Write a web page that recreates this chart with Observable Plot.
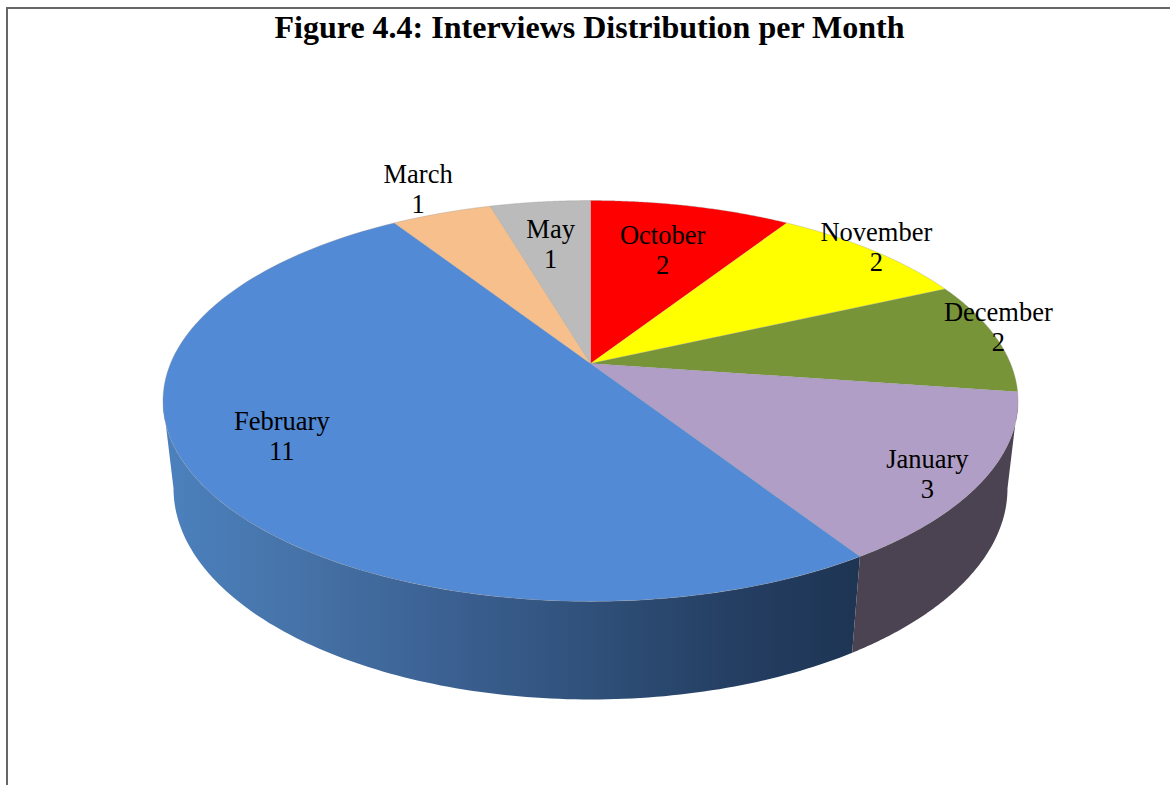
<!DOCTYPE html>
<html>
<head>
<meta charset="utf-8">
<script src="https://cdn.jsdelivr.net/npm/d3@7"></script>
<script src="https://cdn.jsdelivr.net/npm/@observablehq/plot@0.6"></script>
<style>
  html, body { margin: 0; padding: 0; background: #fff; overflow: hidden; }
  #page { position: relative; width: 1170px; height: 785px; }
  #frame { position: absolute; left: 6px; top: 7px; right: 0; bottom: 0;
           border-left: 2px solid #666; border-top: 2px solid #666; pointer-events: none; }
  #title { height: 48px; box-sizing: border-box; padding-top: 8px; text-align: center; margin: 0;
           font: bold 32px/38px "Liberation Serif", serif; color: #000; white-space: nowrap;
           position: relative; left: 4.5px; }
  svg { display: block; }
</style>
</head>
<body>
<div id="page">
  <div id="frame"></div>
  <h1 id="title">Figure 4.4: Interviews Distribution per Month</h1>
  <div id="chart"></div>
</div>
<script>
// Data
const months = ["October", "November", "December", "January", "February", "March", "May"];
const interviews = [2, 2, 2, 3, 11, 1, 1];
const sliceColors = ["#ff0000", "#ffff00", "#779438", "#b09ec6", "#538ad6", "#f6bf8c", "#bbbbbb"];

// Layout of the data labels: distance from the pie's centre (1 = rim), and a small turn off the slice's middle
const labelRadius = [0.684, 1.022, 1.024, 0.891, 0.772, 1.188, 0.703];
const labelTurn = [0, -0.5, -2.6, 2.9, 5.5, 0, -0.6];

// Perspective views of the disc's top face and of its lower rim
const topView = {cx: 590, cy: 363, a: 420, b: 193.4, k: 0.187, turn: 0};
const floorView = {cx: 590, cy: 454.2, a: 411.6, b: 205.6, k: 0.16, turn: -0.7};
const project = (deg, r = 1, view = topView) => {
  const t = (deg + view.turn) * Math.PI / 180, u = r * Math.sin(t), v = r * Math.cos(t), d = 1 + view.k * v;
  return {x: view.cx + view.a * u / d, y: view.cy - view.b * v / d};
};

// Slices as angle spans from the values
const total = d3.sum(interviews);
let acc = 0;
const slices = months.map((month, i) => {
  const start = acc / total * 360;
  acc += interviews[i];
  return {month, value: interviews[i], start, end: acc / total * 360, i};
});
const arc = (a0, a1, view = topView) => d3.range(0, 1.0001, 1 / 120).map(f => project(a0 + (a1 - a0) * f, 1, view));

const tops = slices.flatMap(s => [
  {month: s.month, ...project(0, 0)},
  ...arc(s.start, s.end).map(p => ({month: s.month, ...p}))
]);

// Side wall: visible from the slice boundary to the silhouette of the disc
const edge = view => Math.acos(-view.k) * 180 / Math.PI;
const jan = slices[3], feb = slices[4];
const janWall = [...arc(edge(topView), jan.end), ...arc(edge(floorView) - floorView.turn, jan.end, floorView).reverse()];
const febWall = [...arc(feb.start, 360 - edge(topView)), ...arc(feb.start, 360 - edge(floorView) - floorView.turn, floorView).reverse()];

const labels = slices.map(s => ({
  text: `${s.month}\n${s.value}`,
  ...project((s.start + s.end) / 2 + labelTurn[s.i], labelRadius[s.i])
}));

const wallStops = [[0, "#4b80bc"], [0.18, "#4673a8"], [0.42, "#3a5f90"], [0.62, "#2f5079"], [0.82, "#253f63"], [1, "#1e3554"]];

const defs = () => {
  const g = d3.create("svg:defs");
  const lg = g.append("linearGradient").attr("id", "febGrad").attr("gradientUnits", "userSpaceOnUse")
    .attr("x1", 174).attr("x2", 852).attr("y1", 0).attr("y2", 0);
  wallStops.forEach(([o, c]) => lg.append("stop").attr("offset", o).attr("stop-color", c));
  return g.node();
};

const chart = Plot.plot({
  width: 1170,
  height: 737,
  margin: 0,
  x: {domain: [0, 1170], range: [0, 1170], axis: null},
  y: {domain: [48, 785], range: [0, 737], axis: null},
  color: {domain: months, range: sliceColors},
  style: {background: "transparent", overflow: "visible"},
  marks: [
    defs,
    Plot.line(febWall, {x: "x", y: "y", fill: "url(#febGrad)", stroke: "none"}),
    Plot.line(janWall, {x: "x", y: "y", fill: "#4b4252", stroke: "none"}),
    Plot.line(tops, {x: "x", y: "y", z: "month", fill: "month", stroke: "#8f8f8f", strokeWidth: 0.4, strokeOpacity: 0.8}),
    Plot.text(labels, {
      x: "x", y: "y", dy: -1.3, text: "text", fill: "#000", stroke: "none",
      fontFamily: "Liberation Serif", fontSize: 26.5, lineHeight: 1.13,
      textAnchor: "middle", lineAnchor: "middle"
    })
  ]
});
document.getElementById("chart").appendChild(chart);
</script>
</body>
</html>
